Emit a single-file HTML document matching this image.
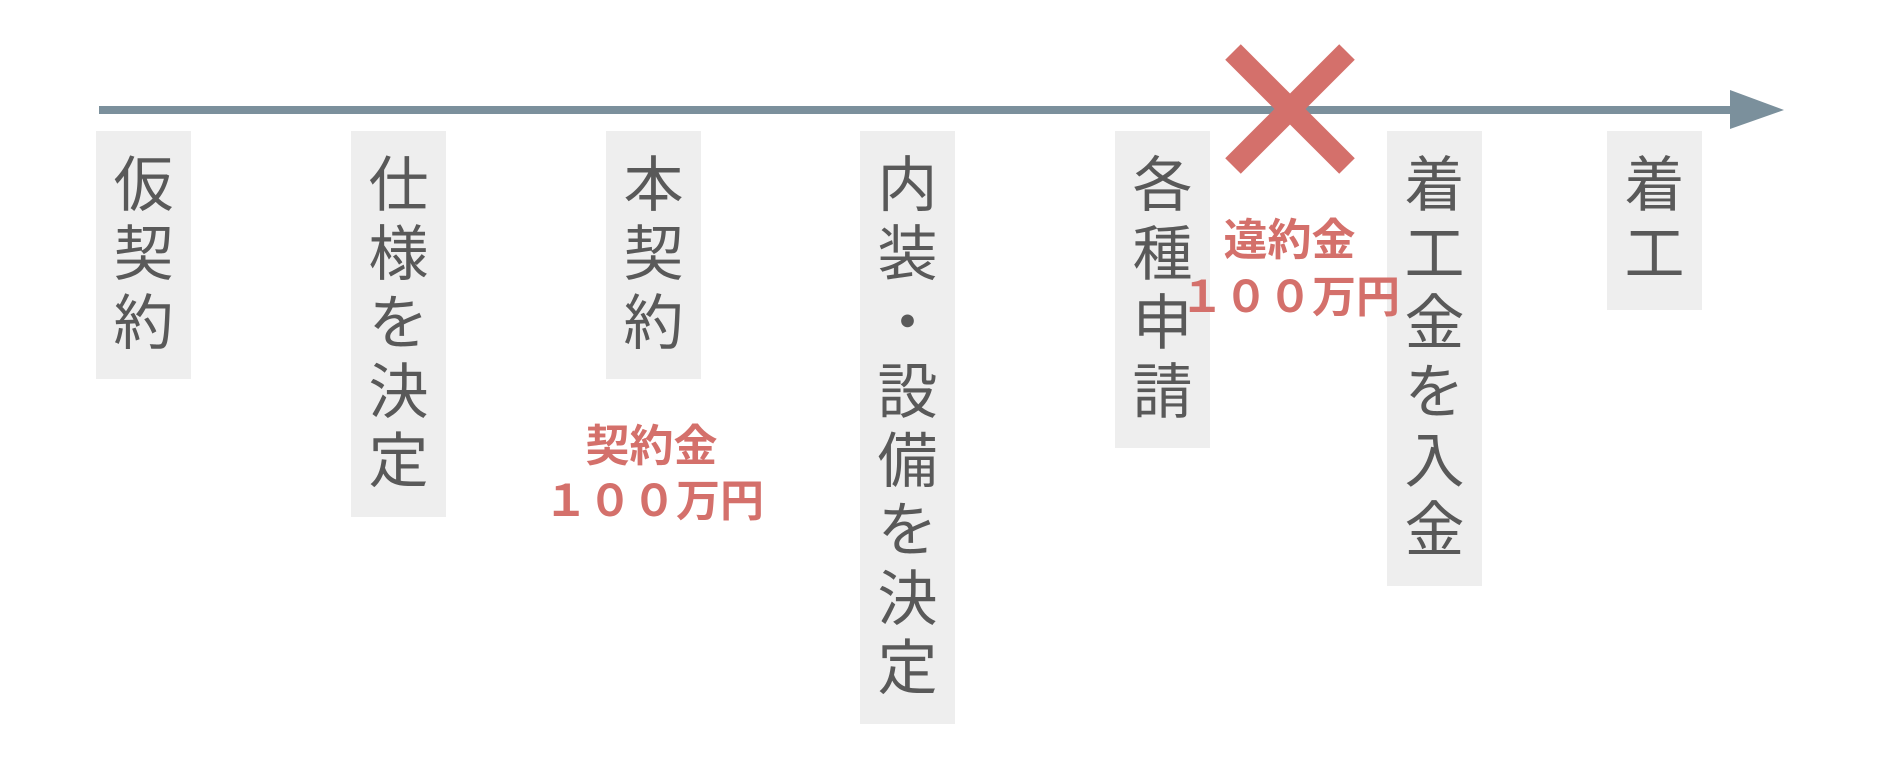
<!DOCTYPE html>
<html><head><meta charset="utf-8"><style>
body{margin:0;width:1888px;height:760px;background:#fff;position:relative;overflow:hidden;font-family:"Liberation Sans","Noto Sans CJK JP",sans-serif}
.b{position:absolute;top:131px;width:95px;background:#eeeeee}
.t{position:absolute;top:151px;width:95px;text-align:center;font-size:60px;line-height:69px;color:#595959}
.r{position:absolute;color:#d4706b;font-weight:bold;text-align:center;white-space:nowrap;font-size:44px;line-height:50px}
</style></head><body>
<svg width="1888" height="760" style="position:absolute;left:0;top:0">
<rect x="99" y="106" width="1635" height="8" fill="#7b909c"/>
<polygon points="1730,90 1784,110 1730,129" fill="#7b909c"/>
</svg>
<div class="b" style="left:96px;height:248px"></div>
<div class="b" style="left:351px;height:386px"></div>
<div class="b" style="left:606px;height:248px"></div>
<div class="b" style="left:860px;height:593px"></div>
<div class="b" style="left:1115px;height:317px"></div>
<div class="b" style="left:1387px;height:455px"></div>
<div class="b" style="left:1607px;height:179px"></div>
<div class="t" style="left:96px">仮<br>契<br>約</div>
<div class="t" style="left:351px">仕<br>様<br>を<br>決<br>定</div>
<div class="t" style="left:606px">本<br>契<br>約</div>
<div class="t" style="left:860px">内<br>装<br>・<br>設<br>備<br>を<br>決<br>定</div>
<div class="t" style="left:1115px">各<br>種<br>申<br>請</div>
<div class="t" style="left:1387px">着<br>工<br>金<br>を<br>入<br>金</div>
<div class="t" style="left:1607px">着<br>工</div>
<div class="r" style="left:547px;top:422px;width:209px">契約金</div>
<div class="r" style="left:544px;top:477px;width:209px">１００万円</div>
<svg width="1888" height="760" style="position:absolute;left:0;top:0">
<line x1="1233" y1="52" x2="1347" y2="166" stroke="#d4706b" stroke-width="22"/>
<line x1="1347" y1="52" x2="1233" y2="166" stroke="#d4706b" stroke-width="22"/>
</svg>
<div class="r" style="left:1185px;top:216px;width:209px">違約金</div>
<div class="r" style="left:1180px;top:273px;width:209px">１００万円</div>
</body></html>
